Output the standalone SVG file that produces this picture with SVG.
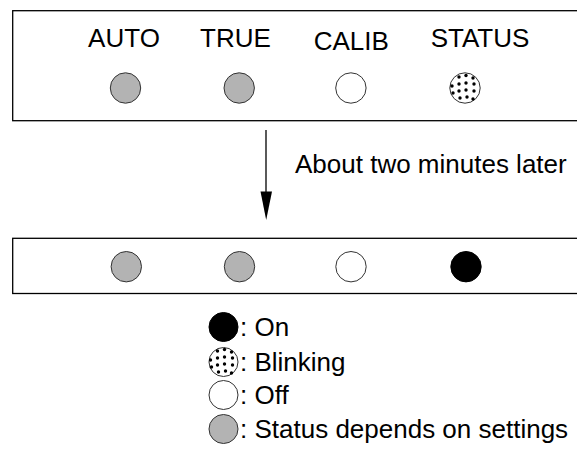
<svg xmlns="http://www.w3.org/2000/svg" width="577" height="454" viewBox="0 0 577 454">
  <style>
    .box { fill: #ffffff; stroke: #000000; stroke-width: 1.3; }
    .lbl { font-family: "Liberation Sans", Arial, sans-serif; font-size: 26px; fill: #000000; }
    .mid { text-anchor: middle; }
    .gray { fill: #b3b3b3; stroke: #333333; stroke-width: 1; }
    .off { fill: #ffffff; stroke: #333333; stroke-width: 1; }
    .on { fill: #000000; stroke: #000000; stroke-width: 1; }
    .blink { fill: #ffffff; stroke: #333333; stroke-width: 1; }
    .dot { fill: #000000; }
  </style>
  <defs>
    <g id="dots">
      <circle class="dot" cx="-6" cy="-11" r="1.7"/>
      <circle class="dot" cx="1" cy="-12.5" r="1.7"/>
      <circle class="dot" cx="8" cy="-10" r="1.7"/>
      <circle class="dot" cx="-13" cy="-2" r="1.7"/>
      <circle class="dot" cx="-6" cy="-4" r="1.7"/>
      <circle class="dot" cx="1" cy="-5" r="1.7"/>
      <circle class="dot" cx="9" cy="-4" r="1.7"/>
      <circle class="dot" cx="-6" cy="3" r="1.7"/>
      <circle class="dot" cx="1" cy="2" r="1.7"/>
      <circle class="dot" cx="9" cy="3" r="1.7"/>
      <circle class="dot" cx="-12" cy="5" r="1.7"/>
      <circle class="dot" cx="-5" cy="10" r="1.7"/>
      <circle class="dot" cx="2" cy="9" r="1.7"/>
      <circle class="dot" cx="8" cy="11" r="1.7"/>
    </g>
  </defs>
  <rect width="577" height="454" fill="#ffffff"/>

  <g id="panel-before">
    <rect class="box" x="12.7" y="10.7" width="600" height="110"/>
    <text class="lbl mid" x="124" y="47.3">AUTO</text>
    <text class="lbl mid" x="235.5" y="47.3">TRUE</text>
    <text class="lbl mid" x="351.3" y="50.3">CALIB</text>
    <text class="lbl mid" x="480" y="47.3">STATUS</text>
    <circle class="gray" cx="125.5" cy="88" r="15.2"/>
    <circle class="gray" cx="239.2" cy="88" r="15.2"/>
    <circle class="off" cx="350.9" cy="88" r="15.2"/>
    <g id="status-blink">
      <circle class="blink" cx="465" cy="88" r="15.2"/>
      <use href="#dots" x="465" y="88"/>
    </g>
  </g>

  <g id="connectors">
    <line x1="266" y1="130" x2="266" y2="193" stroke="#000000" stroke-width="1.3"/>
    <polygon points="260.5,191.5 272,191.5 266.2,220" fill="#000000"/>
    <text class="lbl" x="295" y="173.3">About two minutes later</text>
  </g>

  <g id="panel-after">
    <rect class="box" x="12.7" y="238.3" width="600" height="55.2"/>
    <circle class="gray" cx="126.3" cy="266.7" r="15.2"/>
    <circle class="gray" cx="239.5" cy="266.7" r="15.2"/>
    <circle class="off" cx="351" cy="266.7" r="15.2"/>
    <circle class="on" cx="466" cy="266.7" r="15.2"/>
  </g>

  <g id="legend">
    <circle class="on" cx="223.5" cy="327" r="14.5"/>
    <text class="lbl" x="240" y="336">: On</text>
    <circle class="blink" cx="223.5" cy="362" r="14.5"/>
    <use href="#dots" x="223.5" y="362"/>
    <text class="lbl" x="240" y="371">: Blinking</text>
    <circle class="off" cx="223.5" cy="395" r="14.5"/>
    <text class="lbl" x="240" y="404">: Off</text>
    <circle class="gray" cx="223.5" cy="429" r="14.5"/>
    <text class="lbl" x="240" y="438">: Status depends on settings</text>
  </g>
</svg>
